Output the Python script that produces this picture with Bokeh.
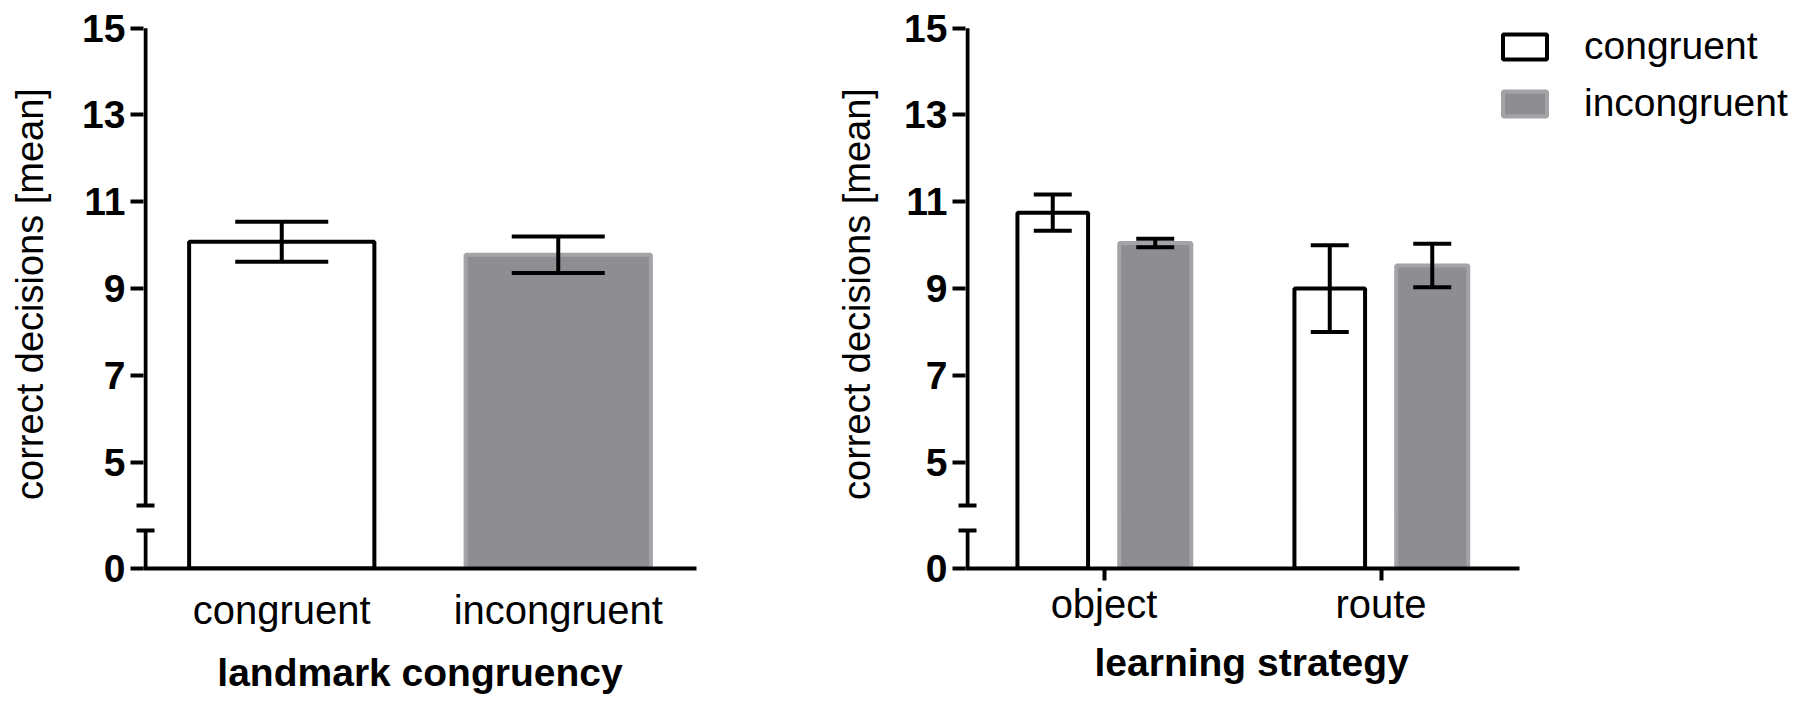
from bokeh.plotting import figure
from bokeh.layouts import row
from bokeh.models import (ColumnDataSource, Range1d, FixedTicker, Whisker,
                          TeeHead, Legend, LegendItem, Title)
from bokeh.transform import dodge
from bokeh.embed import file_html
from bokeh.resources import INLINE

# ---------------- data ----------------
congruency_labels = ["congruent", "incongruent"]
congruency_means = [10.08, 9.78]
congruency_err = [0.46, 0.42]

strategy_labels = ["object", "route"]
strategy_congruent_means = [10.75, 9.0]
strategy_congruent_err = [0.42, 1.0]
strategy_incongruent_means = [10.05, 9.53]
strategy_incongruent_err = [0.10, 0.50]

series_labels = ["congruent", "incongruent"]
y_tick_values = [5, 7, 9, 11, 13, 15]
y_title = "correct decisions [mean]"
x_title_left = "landmark congruency"
x_title_right = "learning strategy"

# ---------------- broken-axis layout ----------------
ZERO_POS = 2.55        # position at which the value 0 is drawn
BREAK_LOW_TOP = 3.42   # top of the short lower axis piece
BREAK_HIGH_BOTTOM = 4.0
Y_TOP = 15.2
AXIS_NUDGE = 0.0072    # keeps the 4px axis line inside the frame

FONT = "Liberation Sans"
WHITE_FILL, BLACK_LINE = "white", "black"
GRAY_FILL, GRAY_LINE = "#8e8d92", "#a4a3a7"


def base_figure(labels, x_end, min_left, min_right, frame_w, y_standoff,
                x_tick_out, x_label_standoff, x_title):
    n = len(labels)
    centers = [i + 0.5 for i in range(n)]
    p = figure(x_range=Range1d(0, x_end), y_range=Range1d(ZERO_POS, Y_TOP),
               frame_width=frame_w, frame_height=549,
               min_border_left=min_left, min_border_right=min_right,
               min_border_top=19, min_border_bottom=118,
               output_backend="svg", toolbar_location=None)
    p.outline_line_color = None
    p.xgrid.visible = False
    p.ygrid.visible = False

    ya = p.yaxis[0]
    ya.ticker = FixedTicker(ticks=[ZERO_POS] + y_tick_values,
                            minor_ticks=[BREAK_LOW_TOP, BREAK_HIGH_BOTTOM])
    ya.major_label_overrides = {ZERO_POS: "0"}
    ya.axis_line_color = None
    ya.major_tick_line_width = 4
    ya.major_tick_line_color = "black"
    ya.major_tick_out = 13
    ya.major_tick_in = 0
    ya.minor_tick_line_width = 4
    ya.minor_tick_line_color = "black"
    ya.minor_tick_out = 7
    ya.minor_tick_in = 11
    ya.major_label_text_font = FONT
    ya.major_label_text_font_size = "39px"
    ya.major_label_text_font_style = "bold"
    ya.major_label_text_color = "black"
    ya.major_label_standoff = 5
    ya.axis_label = y_title
    ya.axis_label_text_font = FONT
    ya.axis_label_text_font_size = "38px"
    ya.axis_label_text_font_style = "normal"
    ya.axis_label_text_color = "black"
    ya.axis_label_standoff = y_standoff

    xa = p.xaxis[0]
    xa.bounds = (0, n)
    xa.ticker = FixedTicker(ticks=centers, minor_ticks=[])
    xa.major_label_overrides = {c: lab for c, lab in zip(centers, labels)}
    xa.axis_line_width = 4
    xa.axis_line_color = "black"
    if x_tick_out > 0:
        xa.major_tick_line_width = 4
        xa.major_tick_line_color = "black"
        xa.major_tick_out = x_tick_out
        xa.major_tick_in = 0
    else:
        xa.major_tick_line_color = None
    xa.minor_tick_line_color = None
    xa.major_label_text_font = FONT
    xa.major_label_text_font_size = "40px"
    xa.major_label_text_color = "black"
    xa.major_label_standoff = x_label_standoff
    if x_title is not None:
        xa.axis_label = x_title
        xa.axis_label_text_font = FONT
        xa.axis_label_text_font_size = "39px"
        xa.axis_label_text_font_style = "bold"
        xa.axis_label_text_color = "black"
        xa.axis_label_standoff = 16

    # broken y axis line (two pieces)
    p.segment(x0=[AXIS_NUDGE, AXIS_NUDGE], x1=[AXIS_NUDGE, AXIS_NUDGE],
              y0=[ZERO_POS, BREAK_HIGH_BOTTOM], y1=[BREAK_LOW_TOP, y_tick_values[-1]],
              line_width=4, line_color="black")
    return p, centers


def add_whisker(p, src, base, cap):
    w = Whisker(source=src, base=base, upper="upper", lower="lower",
                line_width=4, line_color="black", level="annotation",
                upper_head=TeeHead(size=cap, line_width=4, line_color="black"),
                lower_head=TeeHead(size=cap, line_width=4, line_color="black"))
    p.add_layout(w)


# ---------------- left chart ----------------
p1, c1 = base_figure(congruency_labels, 2, 143, 24, 553, 28, 0, 13, x_title_left)
src1 = ColumnDataSource(dict(
    x=c1,
    top=congruency_means,
    upper=[m + e for m, e in zip(congruency_means, congruency_err)],
    lower=[m - e for m, e in zip(congruency_means, congruency_err)],
    fill=[WHITE_FILL, GRAY_FILL],
    line=[BLACK_LINE, GRAY_LINE],
))
p1.vbar(x="x", top="top", bottom=ZERO_POS, width=0.67, source=src1,
        fill_color="fill", line_color="line", line_width=4)
add_whisker(p1, src1, "x", 93)

# ---------------- right chart ----------------
p2, c2 = base_figure(strategy_labels, 3.0, 245, 0, 831, 23, 12, 1, None)
p2.add_layout(Title(text=x_title_right, align="left", offset=129, standoff=20,
                    text_font=FONT, text_font_size="39px", text_font_style="bold",
                    text_color="black"), "below")
src_c = ColumnDataSource(dict(
    x=c2,
    top=strategy_congruent_means,
    upper=[m + e for m, e in zip(strategy_congruent_means, strategy_congruent_err)],
    lower=[m - e for m, e in zip(strategy_congruent_means, strategy_congruent_err)],
))
src_i = ColumnDataSource(dict(
    x=c2,
    top=strategy_incongruent_means,
    upper=[m + e for m, e in zip(strategy_incongruent_means, strategy_incongruent_err)],
    lower=[m - e for m, e in zip(strategy_incongruent_means, strategy_incongruent_err)],
))
OFF = 0.185
r_c = p2.vbar(x=dodge("x", -OFF), top="top", bottom=ZERO_POS, width=0.255,
              source=src_c, fill_color=WHITE_FILL, line_color=BLACK_LINE, line_width=4)
r_i = p2.vbar(x=dodge("x", OFF), top="top", bottom=ZERO_POS, width=0.26,
              source=src_i, fill_color=GRAY_FILL, line_color=GRAY_LINE, line_width=4)
add_whisker(p2, src_c, dodge("x", -OFF), 38)
add_whisker(p2, src_i, dodge("x", OFF), 38)

legend = Legend(items=[LegendItem(label=series_labels[0], renderers=[r_c]),
                       LegendItem(label=series_labels[1], renderers=[r_i])],
                location=(532, 443), glyph_width=55, glyph_height=31, label_height=31,
                label_standoff=32, spacing=13, padding=0, margin=0,
                border_line_color=None, background_fill_alpha=0,
                label_text_font=FONT, label_text_font_size="39px", label_text_color="black")
p2.add_layout(legend)

layout = row(p1, p2)
open("out.html", "w").write(file_html(layout, INLINE))
